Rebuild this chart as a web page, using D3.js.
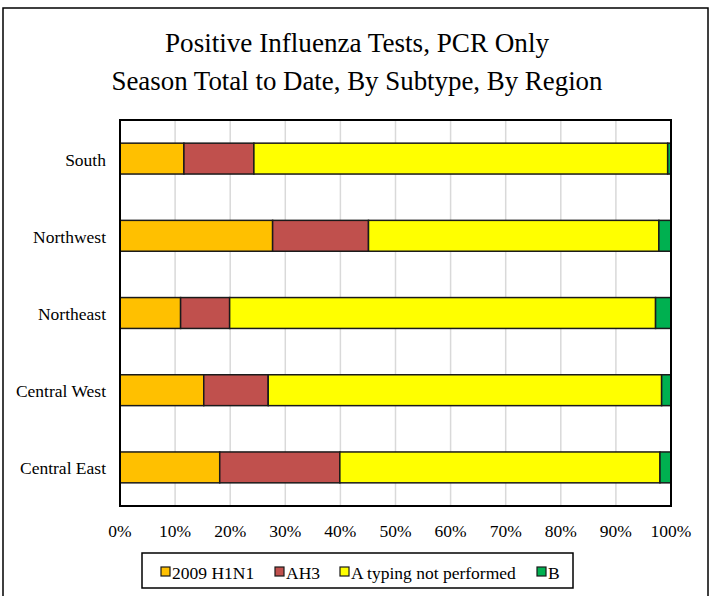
<!DOCTYPE html>
<html>
<head>
<meta charset="utf-8">
<script src="https://cdn.jsdelivr.net/npm/d3@7"></script>
<style>
  body { margin: 0; background: #fff; }
  text { font-family: "Liberation Serif", "Times New Roman", serif; fill: #000; }
</style>
</head>
<body>
<script>
// data (share of positive tests, %)
var regions = ["South", "Northwest", "Northeast", "Central West", "Central East"];
var subtypes = ["2009 H1N1", "AH3", "A typing not performed", "B"];
var h1n1 = [11.6, 27.7, 11.0, 15.2, 18.1];
var ah3 = [12.7, 17.4, 8.9, 11.7, 21.8];
var notTyped = [75.1, 52.7, 77.3, 71.4, 58.1];
var typeB = [0.6, 2.2, 2.8, 1.7, 2.0];
var xTicks = [0, 10, 20, 30, 40, 50, 60, 70, 80, 90, 100];

var colors = ["#FFC000", "#C0504D", "#FFFF00", "#00B050"];

var width = 713, height = 596;
var plot = {left: 120, top: 120, right: 671, bottom: 506};

var svg = d3.select("body").append("svg")
    .attr("width", width)
    .attr("height", height);

// outer frame
svg.append("rect")
    .attr("x", 3).attr("y", 8)
    .attr("width", 705).attr("height", 600)
    .attr("fill", "none")
    .attr("stroke", "#000")
    .attr("stroke-width", 1.5);

// title
var title = svg.append("text")
    .attr("text-anchor", "middle")
    .attr("font-size", 28);
title.append("tspan").attr("x", 357).attr("y", 52)
    .attr("textLength", 384).attr("lengthAdjust", "spacingAndGlyphs")
    .text("Positive Influenza  Tests, PCR Only");
title.append("tspan").attr("x", 357).attr("y", 90)
    .attr("textLength", 491).attr("lengthAdjust", "spacingAndGlyphs")
    .text("Season Total to Date,  By Subtype, By Region");

var rows = regions.map(function(r, i) {
    return {region: r, vals: [h1n1[i], ah3[i], notTyped[i], typeB[i]]};
});

var x = d3.scaleLinear().domain([0, 100]).range([plot.left, plot.right]);
var y = d3.scaleBand().domain(regions).range([plot.top, plot.bottom]).paddingInner(0.6).paddingOuter(0.3);

// gridlines
svg.append("g").selectAll("line")
    .data(xTicks.slice(1, -1))
    .enter().append("line")
    .attr("x1", function(d){ return x(d); })
    .attr("x2", function(d){ return x(d); })
    .attr("y1", plot.top).attr("y2", plot.bottom)
    .attr("stroke", "#d9d9d9")
    .attr("stroke-width", 1.5);

// stacked bars
var g = svg.append("g").selectAll("g")
    .data(rows)
    .enter().append("g");

g.selectAll("rect")
    .data(function(d) {
        var acc = 0;
        return d.vals.map(function(v, k) {
            var s = {region: d.region, x0: acc, x1: acc + v, k: k};
            acc += v;
            return s;
        });
    })
    .enter().append("rect")
    .attr("x", function(d){ return x(d.x0); })
    .attr("y", function(d){ return y(d.region); })
    .attr("width", function(d){ return x(d.x1) - x(d.x0); })
    .attr("height", y.bandwidth())
    .attr("fill", function(d){ return colors[d.k]; })
    .attr("stroke", "#1a1a1a")
    .attr("stroke-width", 1.5);

// plot border
svg.append("rect")
    .attr("x", plot.left).attr("y", plot.top)
    .attr("width", plot.right - plot.left)
    .attr("height", plot.bottom - plot.top)
    .attr("fill", "none")
    .attr("stroke", "#000")
    .attr("stroke-width", 2);

// category labels
svg.append("g").selectAll("text")
    .data(regions)
    .enter().append("text")
    .attr("x", 106)
    .attr("y", function(d){ return y(d) + y.bandwidth() / 2 + 7; })
    .attr("text-anchor", "end")
    .attr("font-size", 17.5)
    .text(function(d){ return d; });

// x tick labels
svg.append("g").selectAll("text")
    .data(xTicks)
    .enter().append("text")
    .attr("x", function(d){ return x(d); })
    .attr("y", 537)
    .attr("text-anchor", "middle")
    .attr("font-size", 17.5)
    .text(function(d){ return d + "%"; });

// legend
svg.append("rect")
    .attr("x", 142).attr("y", 553)
    .attr("width", 431).attr("height", 35)
    .attr("fill", "#fff")
    .attr("stroke", "#000")
    .attr("stroke-width", 1.5);

var legendX = [161, 275, 340, 537];
var lg = svg.append("g").selectAll("g")
    .data(subtypes)
    .enter().append("g")
    .attr("transform", function(d, i){ return "translate(" + legendX[i] + ",567)"; });

lg.append("rect")
    .attr("width", 9).attr("height", 9)
    .attr("fill", function(d, i){ return colors[i]; })
    .attr("stroke", "#1a1a1a")
    .attr("stroke-width", 1.2);

lg.append("text")
    .attr("x", 11).attr("y", 12)
    .attr("font-size", 17.5)
    .text(function(d){ return d; });
</script>
</body>
</html>
